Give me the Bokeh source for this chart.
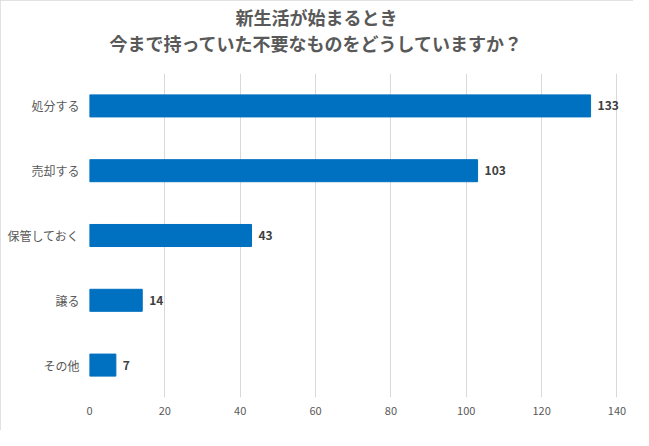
from bokeh.plotting import figure
from bokeh.models import ColumnDataSource, FactorRange, FixedTicker, LabelSet, Title
from bokeh.core.properties import value
from bokeh.embed import file_html
from bokeh.resources import INLINE

title_lines = ["新生活が始まるとき", "今まで持っていた不要なものをどうしていますか？"]
categories = ["処分する", "売却する", "保管しておく", "譲る", "その他"]
counts = [133, 103, 43, 14, 7]
x_ticks = [0, 20, 40, 60, 80, 100, 120, 140]

FONT = "Noto Sans CJK JP"
TXT = "#595959"

src = ColumnDataSource(dict(cat=categories, val=counts, lab=[str(v) for v in counts]))

p = figure(width=633, height=430, output_backend="svg", toolbar_location=None,
           y_range=FactorRange(factors=categories[::-1]), x_range=(0, 142),
           min_border_left=89, min_border_right=9, min_border_top=73, min_border_bottom=33)
p.outline_line_color = None
p.styles = {"outline": "1px solid #D9D9D9", "outline-offset": "-1px"}

p.hbar(y="cat", right="val", left=0, height=0.34, color="#0070C0", source=src)
p.add_layout(LabelSet(x="val", y="cat", text="lab", source=src, x_offset=7,
                      text_baseline="middle", text_align="left", text_font=value(FONT),
                      text_font_size="12px", text_font_style="bold", text_color="#404040"))

p.xaxis.ticker = FixedTicker(ticks=x_ticks)
p.xaxis.axis_line_color = None
p.xaxis.major_tick_line_color = None
p.xaxis.minor_tick_line_color = None
p.xaxis.major_tick_out = 0
p.xaxis.major_label_standoff = 9
p.xaxis.major_label_text_font = FONT
p.xaxis.major_label_text_font_size = "11px"
p.xaxis.major_label_text_color = TXT

p.yaxis.axis_line_color = None
p.yaxis.major_tick_line_color = None
p.yaxis.minor_tick_line_color = None
p.yaxis.major_tick_out = 0
p.yaxis.major_label_standoff = 10
p.yaxis.major_label_text_font = FONT
p.yaxis.major_label_text_font_size = "12px"
p.yaxis.major_label_text_color = TXT

p.xgrid.grid_line_color = "#D9D9D9"
p.ygrid.grid_line_color = None

p.add_layout(Title(text=" ", text_font_size="14px", standoff=0), "above")
p.add_layout(Title(text=title_lines[1], align="left", offset=20, text_font=FONT,
                   text_font_size="18px", text_font_style="bold", text_color=TXT,
                   standoff=0), "above")
p.add_layout(Title(text=title_lines[0], align="left", offset=146, text_font=FONT,
                   text_font_size="18px", text_font_style="bold", text_color=TXT,
                   standoff=-5), "above")

open("out.html", "w").write(file_html(p, INLINE))
